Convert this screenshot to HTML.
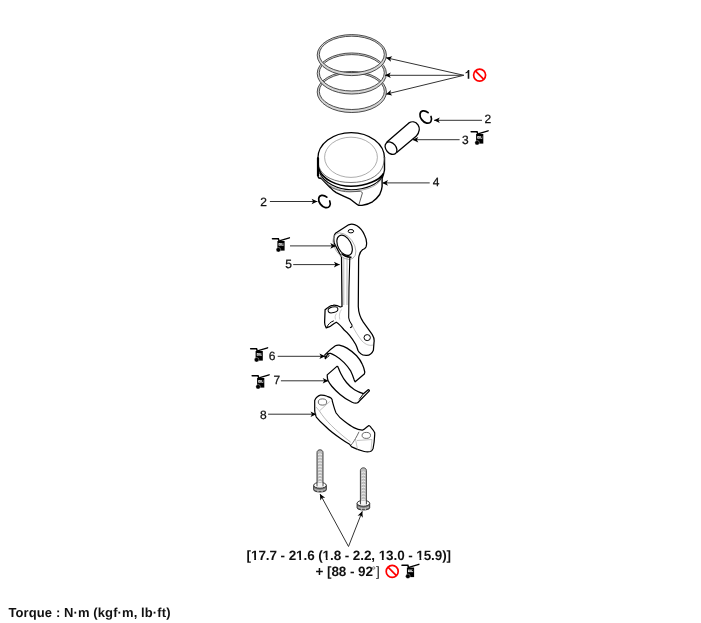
<!DOCTYPE html>
<html><head><meta charset="utf-8">
<style>
html,body{margin:0;padding:0;background:#fff;width:701px;height:623px;overflow:hidden;}
svg{position:absolute;left:0;top:0;will-change:transform;}
text{font-family:"Liberation Sans",sans-serif;text-rendering:geometricPrecision;}
</style></head>
<body>
<svg width="701" height="623" viewBox="0 0 701 623">
<defs>
<marker id="ah" markerUnits="userSpaceOnUse" markerWidth="8" markerHeight="8" viewBox="-7 -4 8 8" refX="0" refY="0" orient="auto">
<path d="M0,0 L-5.8,-2.8 L-4.3,0 L-5.8,2.8Z" fill="#000"/>
</marker>
<g id="oil">
<path d="M0.2,0.7 H6 L6.8,3" fill="none" stroke="#000" stroke-width="1.6" stroke-linecap="round"/>
<path d="M7.8,2.7 L17.1,-0.2" fill="none" stroke="#000" stroke-width="1.4" stroke-linecap="round"/>
<rect x="5.1" y="3" width="7.2" height="9.6" fill="#000"/>
<circle cx="6.1" cy="11.8" r="2.3" fill="#000" stroke="#fff" stroke-width="0.35"/>
<rect x="6.3" y="5.1" width="5" height="2.5" fill="#fff"/><rect x="7" y="5.8" width="0.55" height="1" fill="#000"/><rect x="8.05" y="5.1" width="0.3" height="2.5" fill="#000"/><rect x="9.05" y="5.1" width="0.35" height="2.5" fill="#000"/><rect x="10" y="5.1" width="1.3" height="1.7" fill="#000"/>
</g>
<g id="no">
<circle cx="0" cy="0" r="6" fill="none" stroke="#f00" stroke-width="1.7"/>
<path d="M-4.2,-4.2 L4.2,4.2" stroke="#f00" stroke-width="1.7"/>
</g>
</defs>

<!-- rings -->
<g>
<path d="M317.2,92 A34.6,20.5 0 1 0 386.40000000000003,92 A34.6,20.5 0 1 0 317.2,92 Z M319.3,91.3 A32.5,18.2 0 1 0 384.3,91.3 A32.5,18.2 0 1 0 319.3,91.3 Z" fill="#d4d4d4" fill-rule="evenodd" stroke="#3a3a3a" stroke-width="0.9"/>
<path d="M317.2,73.5 A34.6,20.5 0 1 0 386.40000000000003,73.5 A34.6,20.5 0 1 0 317.2,73.5 Z M319.3,72.8 A32.5,18.2 0 1 0 384.3,72.8 A32.5,18.2 0 1 0 319.3,72.8 Z" fill="#d4d4d4" fill-rule="evenodd" stroke="#3a3a3a" stroke-width="0.9"/>
<path d="M317.2,55.1 A34.6,20.5 0 1 0 386.40000000000003,55.1 A34.6,20.5 0 1 0 317.2,55.1 Z M319.3,54.4 A32.5,18.2 0 1 0 384.3,54.4 A32.5,18.2 0 1 0 319.3,54.4 Z" fill="#d4d4d4" fill-rule="evenodd" stroke="#3a3a3a" stroke-width="0.9"/>
</g>

<!-- C clips -->
<g fill="none" stroke="#000" stroke-width="1.7" stroke-linecap="round">
<path d="M428.1,112.6 A7,4.8 50 1 0 431,116.5"/>
<path d="M326.8,197.1 A7,4.8 50 1 0 329.7,201"/>
</g>

<!-- pin -->
<g fill="#fff" stroke="#000" stroke-width="1.3" stroke-linejoin="round">
<path d="M386.9,142.1 L408.9,122.9 C411.8,121.2 415.6,121.4 418,124.8 C420,127.8 419.8,132 416.1,136.3 L397,152.2 Z"/>
<ellipse cx="391" cy="148.2" rx="7" ry="5" transform="rotate(48.9 391 148.2)"/>
</g>

<!-- piston -->
<g stroke="#000" stroke-linejoin="round" fill="none">
<path d="M318,157 L318,176.5 L319,178 L321.4,178.6 C325,182 328,185.5 330.4,187.6 C332,189.5 334,191.3 336.2,192.7 C341,195 346,197 350.3,199.2 C353.5,201.5 356,204 358.8,205.4 L362,205.4 C366,204.8 369.5,203.5 372.5,201.8 C375.5,199.5 378,197 379.7,194.5 C381,191.5 382,189 382.1,186.5 L382.1,178.5 C383,176 384,173 384.5,170 L384.5,157" stroke-width="1.4" fill="#fff"/>
<path d="M317.9,158.2 A33.3,25.6 0 0 1 384.5,158.2" stroke-width="1.25"/>
<path d="M317.9,158 C318,161 318.2,163.5 318.8,166.4 C322,177 335,182.5 351,182.5 C366,182.5 378,177 382.1,168 C383.5,165 384.3,161.5 384.5,157" stroke="#555" stroke-width="0.8"/>
<ellipse cx="351" cy="157.3" rx="26.4" ry="20.1" stroke="#8a8a8a" stroke-width="0.7"/>
<path d="M318.5,168 C322,180 338,186.3 351,186.3 C366,186.3 380,180 383.5,173.5" stroke-width="1.6"/>
<path d="M319.5,172.5 C324,183 338,189.6 351,189.7 C366,189.7 378,184 382,177" stroke-width="1.1"/>
<path d="M320,175.5 C325,185 338,191.1 351,191.1 C364,191.1 376,187 381,180" stroke="#888" stroke-width="0.7"/>
<path d="M320.5,177 C326,186.5 338,192 350,191.8 L360.4,191.3 C361.5,191.6 362.2,192.2 362.4,193 L358.8,205" stroke-width="0.8" stroke="#333"/>
<path d="M318,158 L318,176" stroke-width="2.2"/>
</g>

<!-- connecting rod -->
<g stroke="#000" stroke-linejoin="round" fill="#fff">
<path d="M334.2,243.1 C333.5,239 333.8,235 335.5,233.2 L348.6,224.8 C352,223.5 355,224.5 357,225.8 C360.5,228 363,231.5 364.5,235 C366.5,239 367,244 366,247 C365,249 363.5,249.5 362.7,249.5 C360,251.5 358.7,254 358.6,260 L358.3,306.5 C358.5,313 360.5,318 363.3,322.2 L372.3,334.6 C374,337.5 374.5,340 374,342.4 L373.4,350.2 C372,353.5 369,355.3 366.7,355.3 C364,355.4 362,355 360.6,353.6 C359.4,352.8 358.6,351.6 358,350.5 C357.4,348.6 356.6,346.2 355.6,344.3 C352,338 348,333 344.2,330 C341,326 338,323 336.3,322.2 C333,324 331,326 329.6,326.7 L326.2,327.8 C325,326 324.6,324 324.6,322.2 L325.1,309.8 C328,307 331,305.3 333,305.3 C336,305 338.5,306 340.3,307 L342,306.5 L341.5,257 Z" stroke-width="1.25"/>
<ellipse cx="344.4" cy="246.2" rx="14.8" ry="9.4" transform="rotate(55 344.4 246.2)" fill="none" stroke="#999" stroke-width="0.7"/>
<ellipse cx="344.6" cy="245.3" rx="10.9" ry="6.6" transform="rotate(62 344.6 245.3)" fill="#fff" stroke-width="1.15"/>
<path d="M341.5,253.5 C344,256 347.5,257.4 351.5,257.2" fill="none" stroke-width="1.5"/>
<ellipse cx="350.9" cy="231.2" rx="2.8" ry="1.7" fill="none" stroke-width="1"/>
<ellipse cx="333" cy="309.8" rx="5" ry="2.8" transform="rotate(-15 333 309.8)" fill="none" stroke-width="1"/>
<ellipse cx="367.2" cy="337.6" rx="3.2" ry="3" fill="none" stroke-width="1"/>
<path d="M343.8,258 L343.8,305" fill="none" stroke="#999" stroke-width="0.7"/>
<path d="M347,258 L347,305" fill="none" stroke="#999" stroke-width="0.7"/>
<path d="M349.8,258 C349,280 348.7,300 348.7,317.7 C349,321 350.5,323 352,325 C352.6,326.2 351.8,327.3 350,327.7" fill="none" stroke-width="1.1"/>
<path d="M326.5,327.6 C328,324.5 330.5,321.8 333.8,320.8" fill="none" stroke-width="1"/>
<path d="M341.5,309.5 C339.5,312 338.8,315.5 339.8,319.5 M336.5,313.5 C335,315.5 334.8,317.5 335.5,319.5" fill="none" stroke="#aaa" stroke-width="0.6"/>
<path d="M352,325 C355,331 358,336 362,341 C366,345 370,346 373,345" fill="none" stroke="#999" stroke-width="0.6"/>
</g>

<!-- bearing shells -->
<g stroke="#000" stroke-linejoin="round" fill="#fff" stroke-width="1.25">
<path d="M324.8,354.9 C328,351.5 331.5,348.3 335.4,345.7 C336.7,345.1 338,345 339.3,345.2 C342,345.9 344.6,346.8 347,348.1 C350.5,350.2 353.8,352.8 356.6,355.8 C359,358.4 361,361.3 362.4,364.5 C363.6,367 364.4,369.5 364.8,372.2 L364.3,374.1 L355.2,381.8 C354.8,381.3 354.5,380.6 354.2,379.9 C353.3,377 352.2,374 350.8,371.2 C348.8,368 346.6,365.1 344.1,362.6 C341.5,360 338.6,357.7 335.4,355.8 C333.9,354.9 332.3,354 330.6,353.4 C329.6,353.2 328.6,353.5 327.7,353.9 L325.3,358.7 Z"/>
<path d="M327.7,353.9 L329.2,355.8 L325.3,358.7" fill="none" stroke-width="0.9"/>
<path d="M327.2,374.9 L336.9,366.4 C337.5,366.3 337.9,366.6 338.1,367.2 C339,369.5 339.8,371.5 340.9,373.7 C342.5,377 344.5,380 346.5,382.5 C349,385.5 351.5,388 354.5,389.7 C357.5,391.5 360.5,392.8 363.4,393.7 L368.2,389.7 C368.8,389.6 369.3,390.1 369.4,390.9 L359.4,401 C358.6,402 357.8,402.7 357,403 C355.2,403.3 353.6,402.9 352.1,402.2 C347.5,400 343.5,397.5 340.1,394.5 C337,391.8 334.3,389.2 332,386.5 C330.3,384.5 329,382.5 328,380.5 C327.4,379 327.2,377 327.2,374.9 Z"/>
<path d="M363.4,393.7 L359.2,399.5" fill="none" stroke="#000" stroke-width="1"/>
</g>

<!-- bearing cap -->
<g stroke="#000" stroke-linejoin="round" fill="#fff">
<path d="M314.7,400.4 C316,397.5 318,395.8 320.4,395.2 C323,394.8 325,395.5 327.2,396.3 C329,396.8 330.6,397.4 331.4,398.3 C332.2,399.2 332.4,400.3 332.4,401.5 C333.5,405.5 334.5,409.5 336.1,413 C338.5,416.5 341,419 344.4,421.3 C347.5,423.7 350.5,426 353.8,427.6 C356.5,429 359.5,430 362.2,430.2 C364,429.5 365.5,428.3 366.9,427 L368.9,425.5 C370,426 370.8,427 371.5,428.1 C372.8,429.5 374,431 374.7,432.8 L374.7,434.9 C374.5,439.5 374,444 373.1,448.4 C372.5,449.8 371.6,450.9 370.5,451.5 C368.5,452 366.3,452 364.2,451.5 C360,450.5 355.8,448.9 351.7,446.9 C350.8,446 350.2,445.2 349.6,444.2 C346.8,442.7 344,441 341.3,439 C335.5,435 330,431 325.6,426.5 C322.2,423.5 319,420.5 316.3,417.1 C315.4,415 314.9,413 314.7,410.9 Z" stroke-width="1.2"/>
<ellipse cx="322.5" cy="402" rx="4.2" ry="3.1" fill="none" stroke="#444" stroke-width="0.8"/>
<ellipse cx="366.3" cy="435.4" rx="4.2" ry="3" fill="none" stroke="#444" stroke-width="0.8"/>
<path d="M319.4,410.9 C325,420 335,430 350.7,442.2" fill="none" stroke="#999" stroke-width="0.7"/>
<path d="M329.8,401.5 L319.4,410.9 M316,407 L319.4,410.9" fill="none" stroke="#aaa" stroke-width="0.7"/>
<path d="M355.5,439 L357.5,449.5 M357,440.5 L372,439.5 L371,450.5" fill="none" stroke="#aaa" stroke-width="0.7"/>
<path d="M351,445 C352.5,443.5 354,441 355.5,438.5 C356.8,436.3 358,434 359,431.8" fill="none" stroke="#444" stroke-width="0.8"/>
</g>

<!-- bolts shapes -->
<g>
<path d="M313.7,485.3 L313.7,489.8 C313.7,492.7 326.3,492.7 326.3,489.8 L326.3,485.3 Z" fill="#7a7a7a" stroke="#222" stroke-width="0.9"/>
<path d="M314.4,488.9 C317.0,490.9 323.0,490.9 325.6,488.9 M318.0,489.9 V492.1 M322.0,489.9 V492.1" fill="none" stroke="#d0d0d0" stroke-width="0.8"/>
<ellipse cx="320.0" cy="485.3" rx="6.3" ry="2.9" fill="#fff" stroke="#222" stroke-width="0.9"/>
<path d="M317.0,486.3 V452.5 C317.0,448.9 323.0,448.9 323.0,452.5 V486.3" fill="#bdbdbd" stroke="#333" stroke-width="0.9"/>
<rect x="317.7" y="483.0" width="4.6" height="3.3" fill="#f4f4f4"/>
<path d="M318.1,454.7 Q320.0,453.1 321.9,454.7 M318.1,457.8 Q320.0,456.2 321.9,457.8 M318.1,460.8 Q320.0,459.2 321.9,460.8 M318.1,463.8 Q320.0,462.2 321.9,463.8 M318.1,466.9 Q320.0,465.3 321.9,466.9 M318.1,469.9 Q320.0,468.4 321.9,469.9 M318.1,473.0 Q320.0,471.4 321.9,473.0 M318.1,476.1 Q320.0,474.5 321.9,476.1 M318.1,479.1 Q320.0,477.5 321.9,479.1 M318.1,482.1 Q320.0,480.6 321.9,482.1 " fill="none" stroke="#f4f4f4" stroke-width="0.9"/>
<path d="M357.1,503.3 L357.1,507.8 C357.1,510.7 369.7,510.7 369.7,507.8 L369.7,503.3 Z" fill="#7a7a7a" stroke="#222" stroke-width="0.9"/>
<path d="M357.8,506.9 C360.4,508.9 366.4,508.9 369.0,506.9 M361.4,507.9 V510.1 M365.4,507.9 V510.1" fill="none" stroke="#d0d0d0" stroke-width="0.8"/>
<ellipse cx="363.4" cy="503.3" rx="6.3" ry="2.9" fill="#fff" stroke="#222" stroke-width="0.9"/>
<path d="M360.4,504.3 V470.5 C360.4,466.9 366.4,466.9 366.4,470.5 V504.3" fill="#bdbdbd" stroke="#333" stroke-width="0.9"/>
<rect x="361.1" y="501.0" width="4.6" height="3.3" fill="#f4f4f4"/>
<path d="M361.5,472.7 Q363.4,471.1 365.3,472.7 M361.5,475.8 Q363.4,474.2 365.3,475.8 M361.5,478.8 Q363.4,477.2 365.3,478.8 M361.5,481.8 Q363.4,480.2 365.3,481.8 M361.5,484.9 Q363.4,483.3 365.3,484.9 M361.5,487.9 Q363.4,486.4 365.3,487.9 M361.5,491.0 Q363.4,489.4 365.3,491.0 M361.5,494.1 Q363.4,492.5 365.3,494.1 M361.5,497.1 Q363.4,495.5 365.3,497.1 M361.5,500.1 Q363.4,498.6 365.3,500.1 " fill="none" stroke="#f4f4f4" stroke-width="0.9"/>
</g>

<g fill="none" stroke="#333" stroke-width="1" marker-end="url(#ah)">
<!-- ring arrows -->
<line x1="463.8" y1="75.3" x2="386" y2="57.7"/>
<line x1="463.8" y1="75.3" x2="385" y2="75.3"/>
<line x1="463.8" y1="75.3" x2="386" y2="94.2"/>
<!-- 2 upper -->
<line x1="482" y1="120.3" x2="434" y2="120.3"/>
<!-- 3 -->
<line x1="459.6" y1="139.7" x2="412.5" y2="139.7"/>
<!-- 4 -->
<line x1="429.7" y1="182.9" x2="382.2" y2="182.9"/>
<!-- 2 left -->
<line x1="269.9" y1="201.5" x2="317.4" y2="201.5"/>
<!-- oil icon arrow to eye -->
<line x1="290" y1="245.9" x2="336.1" y2="245.9"/>
<!-- 5 -->
<line x1="293.2" y1="264.6" x2="339.7" y2="264.6"/>
<!-- 6 -->
<line x1="277.7" y1="356.3" x2="325.2" y2="356.3"/>
<!-- 7 -->
<line x1="280.9" y1="380.8" x2="328.5" y2="380.8"/>
<!-- 8 -->
<line x1="268.1" y1="414.2" x2="316.3" y2="414.2"/>
<!-- bolt arrows -->
<line x1="348.5" y1="546.5" x2="320" y2="494"/>
<line x1="348.5" y1="546.5" x2="362.3" y2="511.3"/>
</g>

<!-- labels -->
<g font-size="12" fill="#111" stroke="#111" stroke-width="0.25">
<path d="M467.7,78.8 V72.6 C467.1,73.1 466.3,73.4 465.6,73.5 V72.3 C466.8,72 467.6,71.2 468,70.1 H469.3 V78.8 Z" stroke="none"/>
<text x="484.4" y="122.8">2</text>
<text x="462.1" y="143.7">3</text>
<text x="432.8" y="186.3">4</text>
<text x="260.2" y="206.4">2</text>
<text x="285.2" y="268.2">5</text>
<text x="268.8" y="359.9">6</text>
<text x="273.4" y="383.7">7</text>
<text x="259.9" y="419">8</text>
</g>
<g font-size="13.5" font-weight="bold" fill="#111">
<text x="246.6" y="559.6" textLength="204.5" lengthAdjust="spacing">[17.7 - 21.6 (1.8 - 2.2, 13.0 - 15.9)]</text>
<text x="315.5" y="575.9" textLength="57.5" lengthAdjust="spacing">+ [88 - 92</text>
</g>
<g><rect x="251.20" y="557.5" width="3.0" height="2.6" fill="#fff"/><rect x="256.05" y="557.5" width="2.3" height="2.6" fill="#fff"/><rect x="296.25" y="557.5" width="3.0" height="2.6" fill="#fff"/><rect x="301.10" y="557.5" width="2.3" height="2.6" fill="#fff"/><rect x="322.81" y="557.5" width="3.0" height="2.6" fill="#fff"/><rect x="327.66" y="557.5" width="2.3" height="2.6" fill="#fff"/><rect x="378.85" y="557.5" width="3.0" height="2.6" fill="#fff"/><rect x="383.70" y="557.5" width="2.3" height="2.6" fill="#fff"/><rect x="416.49" y="557.5" width="3.0" height="2.6" fill="#fff"/><rect x="421.34" y="557.5" width="2.3" height="2.6" fill="#fff"/></g>
<text x="8.5" y="616.8" font-size="13" font-weight="bold" fill="#111" textLength="162" lengthAdjust="spacing">Torque : N·m (kgf·m, lb·ft)</text>
<circle cx="373.7" cy="568" r="1.2" fill="none" stroke="#333" stroke-width="0.6"/>
<text x="376" y="576" font-size="13.5" fill="#111">]</text>

<use href="#no" x="479.6" y="75.1"/>
<use href="#no" x="392.2" y="571.4"/>
<use href="#oil" x="471" y="131"/>
<use href="#oil" x="272.3" y="238"/>
<use href="#oil" x="250.5" y="348"/>
<use href="#oil" x="252" y="375"/>
<use href="#oil" x="401.8" y="564.5"/>
</svg>
</body></html>
